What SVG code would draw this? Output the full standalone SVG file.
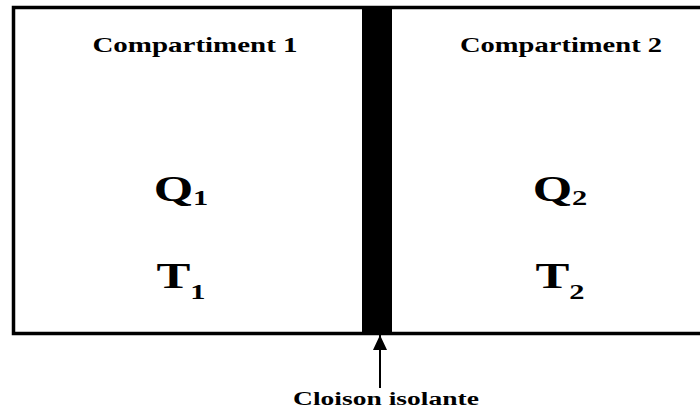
<svg xmlns="http://www.w3.org/2000/svg" width="700" height="410" viewBox="0 0 700 410">
  <style>
    text { font-family: "Liberation Serif", "Times New Roman", serif; font-weight: bold; fill: #000; text-anchor: middle; }
    .title { font-size: 21px; }
    .big { font-size: 35px; }
    .sub { font-size: 21px; }
    .label { font-size: 19px; }
    .frame { fill: none; stroke: #000; stroke-width: 3.5; }
  </style>
  <defs>
    <marker id="arrow" markerWidth="15" markerHeight="14" refX="15" refY="7" orient="auto" markerUnits="userSpaceOnUse" viewBox="0 0 15 14">
      <path d="M0,0 L15,7 L0,14 Z" fill="#000"/>
    </marker>
  </defs>
  <rect width="700" height="410" fill="#fff"/>
  <g id="enclosure">
    <path class="frame" d="M720,7.5 H13.5 V333.5 H720"/>
  </g>
  <g id="cloison">
    <rect x="362" y="8" width="30" height="325" fill="#000"/>
  </g>
  <g id="compartiment1">
    <text class="title" transform="translate(195,52) scale(1.38,1)">Compartiment 1</text>
    <text class="big" transform="translate(181,201) scale(1.45,1)">Q<tspan class="sub" dy="4">1</tspan></text>
    <text class="big" transform="translate(181,288) scale(1.45,1)">T<tspan class="sub" dy="11">1</tspan></text>
  </g>
  <g id="compartiment2">
    <text class="title" transform="translate(561,52) scale(1.36,1)">Compartiment 2</text>
    <text class="big" transform="translate(560,201) scale(1.45,1)">Q<tspan class="sub" dy="4">2</tspan></text>
    <text class="big" transform="translate(560,288) scale(1.45,1)">T<tspan class="sub" dy="11">2</tspan></text>
  </g>
  <g id="connectors">
    <line x1="380" y1="388" x2="380" y2="335" stroke="#000" stroke-width="2" marker-end="url(#arrow)"/>
  </g>
  <g id="label">
    <text class="label" transform="translate(386,405) scale(1.45,1)">Cloison isolante</text>
  </g>
</svg>
